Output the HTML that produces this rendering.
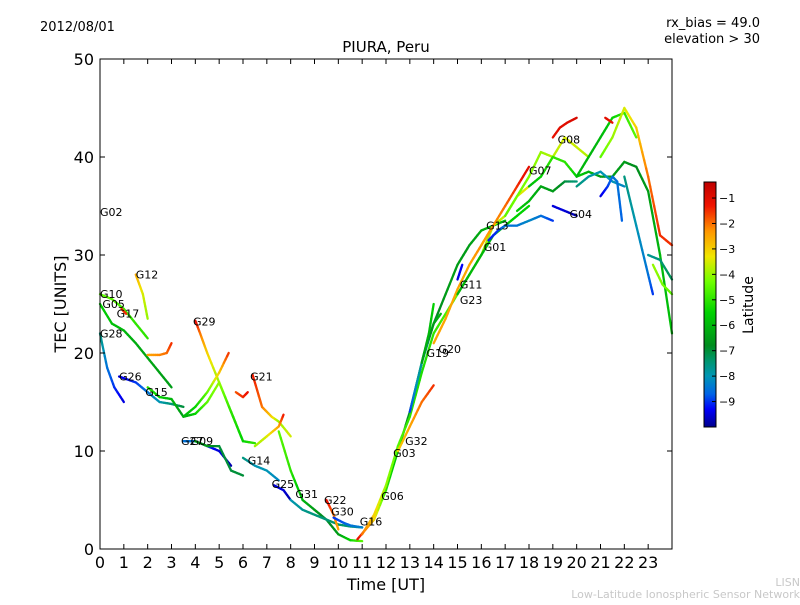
<!DOCTYPE html>
<html><head><meta charset="utf-8"><style>
body{margin:0;background:#fff;}
svg text{font-family:"DejaVu Sans","Liberation Sans",sans-serif;}
</style></head><body>
<svg id="chart" width="800" height="600" xmlns="http://www.w3.org/2000/svg">
<rect x="0" y="0" width="800" height="600" fill="#fff"/>
<text x="40" y="31" font-size="13">2012/08/01</text>
<text x="760" y="27" font-size="13" text-anchor="end">rx_bias = 49.0</text>
<text x="760" y="43" font-size="13" text-anchor="end">elevation &gt; 30</text>
<text x="386" y="52" font-size="15" text-anchor="middle">PIURA, Peru</text>
<g id="plot"></g>
<rect x="100" y="59" width="572" height="490" fill="none" stroke="#000" stroke-width="1"/>
<g id="axes"></g>
<text x="386" y="590" font-size="16" text-anchor="middle">Time [UT]</text>
<text transform="translate(66,304) rotate(-90)" font-size="16" text-anchor="middle">TEC [UNITS]</text>
<g id="cbar"></g>
<text transform="translate(753,305) rotate(-90)" font-size="14" text-anchor="middle">Latitude</text>
<text x="800" y="586" font-size="11" fill="#c8c8c8" text-anchor="end">LISN</text>
<text x="800" y="598" font-size="11" fill="#c8c8c8" text-anchor="end">Low-Latitude Ionospheric Sensor Network</text>
</svg>
<script>
const xTicks=[0,1,2,3,4,5,6,7,8,9,10,11,12,13,14,15,16,17,18,19,20,21,22,23];
const yTicks=[0,10,20,30,40,50];
const cbTicks=[-1,-2,-3,-4,-5,-6,-7,-8,-9];
const trackT=[
[0,0.3,0.6,1],
[0,0.5,1,1.5,2,2.5,3],
[0,0.5,1,1.5,2],
[0.9,1.1],
[1.5,1.8,2],
[2,2.5,2.8,3],
[0.8,1.5,2,2.5,3,3.5],
[2,2.5,3,3.5,4,4.5,5,5.5,6],
[4,4.2,4.5,5,5.5,6,6.5],
[3.5,4,4.5,5,5.4],
[3.5,4,4.5,5,5.5],
[4,4.5,5,5.5,6],
[5.7,6,6.2],
[6.4,6.8,7.2,7.5,8],
[6,6.5,7,7.5],
[6.5,7,7.5,7.7],
[7.5,8,8.5,9,9.5,10,10.5,11],
[7.3,7.7,8],
[8,8.5,9,9.5,10,10.5,11],
[9.5,9.8,10],
[9.8,10.2,10.5,11],
[10.8,11.5,12,12.5,13,13.5,14,14.5,15,15.5,16,16.5,17],
[11,11.5,12,12.5,13,13.5,14,15,16,16.5,17,17.5,18],
[12.5,13,13.5,14],
[13,13.3,13.6,14,14.3],
[13.5,13.8,14],
[14,14.5,15,15.5,16,16.5],
[15,15.2],
[15,15.5,16,16.5,17,17.5,18],
[16.3,16.7,17,17.5,18,18.5,19],
[16,16.5,17,17.5,18],
[17,17.5,18,18.5,19,19.5,20,20.5],
[19,19.3,19.6,20],
[17.5,18,18.5,19,19.5,20],
[18,18.5,19,19.5,20,20.5,21,21.5,22,22.5,23,23.5,24],
[19,19.5,20],
[20,20.5,21,21.5,22],
[20,20.5,21,21.5,22,22.5],
[21,21.5,22,22.5,23,23.5,24],
[21,21.3,21.5,21.7,21.9],
[22,22.5,23,23.2],
[23,23.5,24],
[23.2,23.6,24],
[21.2,21.5]
];
const trackTEC=[
[22,18.5,16.5,15],
[25,23,22.3,21,19.5,18,16.5],
[26,25.5,24.5,23,21.5],
[24.5,24],
[28,26,23.5],
[19.8,19.8,20,21],
[17.6,17,16,15,14.8,14.5],
[16.5,15.5,15.3,13.5,13.8,15,17,14,11],
[23.3,22,20,17,14,11,10.8],
[13.5,14.5,16,18,20],
[11,11,10.5,10,8.5],
[11,10.5,10.5,8,7.5],
[16,15.5,16],
[17.8,14.5,13.5,13,11.5],
[9.3,8.5,8,7],
[10.5,11.5,12.5,13.7],
[12,8,5,4,3,1.5,0.9,0.8],
[6.5,6,5],
[5,4,3.5,3,2.5,2.3,2.2],
[5,3.5,2],
[3.2,2.7,2.4,2.2],
[1,3,6,10,14,19,23,26,29,31,32.5,33,33.5],
[1.5,3.5,6.5,10.5,13.5,18,22,26,30,33,34,36,37],
[10,12.5,15,16.7],
[14,17,20,23,24],
[19,22,25],
[21,23.5,26.5,29,31,33],
[27.5,29],
[26,28,30,32,33,34,35],
[31.5,32.5,33,33,33.5,34,33.5],
[31,33,35,37,39],
[34,36,38,40.5,40,42,41,40],
[42,43,43.5,44],
[34.5,35.5,37,36.5,37.5,37.5],
[37,38,40,39.5,38,38.5,38,38,39.5,39,36.5,30,22],
[35,34.5,34],
[37,38,38.5,37.5,37],
[38,40,42,44,44.5,42],
[40,42,45,43,38,32,31],
[36,37,38,37.5,33.5],
[38,33,28,26],
[30,29.5,27.5],
[29,27,26],
[44,43.5]
];
const trackLat=[
[-7.5,-8.5,-9,-9.5],
[-5.5,-5.8,-6,-6.2,-6.3,-6.4,-6.5],
[-4.5,-4.5,-4.8,-5,-5],
[-1.5,-1.5],
[-2.5,-3.5,-4],
[-2.5,-2.2,-2,-1.5],
[-9.5,-9,-8.5,-8,-7.5,-7],
[-5,-5.5,-6,-6.5,-5.5,-4.5,-4,-5,-5.5],
[-1,-2,-3,-4,-5,-5.5,-5],
[-6,-5.5,-4.5,-3,-1.5],
[-8.5,-8.5,-9,-9.5,-9.8],
[-6,-6.5,-7,-7,-7],
[-1.8,-1.5,-1.2],
[-1.3,-2,-3,-4,-3.5],
[-7.5,-8,-8,-8.2],
[-4,-3.5,-2.5,-1.3],
[-4.5,-5,-6,-6.5,-7,-6.5,-5.5,-4.5],
[-9.5,-9.5,-9.8],
[-8,-7.7,-7.5,-7.5,-7.3,-7.5,-7.7],
[-1,-2,-2.5],
[-9,-8.8,-8.5,-8.3],
[-1,-3,-5,-6,-7,-7.5,-7,-6.5,-6.5,-6.5,-6.2,-6,-6],
[-2,-3,-4,-4.5,-5,-5.2,-5,-4.5,-4,-3.8,-3.6,-3.5,-3.4],
[-3,-2.5,-2,-1.5],
[-9,-8,-7.5,-6.5,-6],
[-6.5,-6,-5.5],
[-2.5,-2.5,-2.5,-2.5,-2.2,-2],
[-9.5,-9.3],
[-6,-6,-6,-6,-5.5,-5.5,-5.5],
[-9.2,-9,-8.5,-8.5,-8.2,-8.5,-9],
[-2.5,-2.3,-2,-1.5,-1],
[-4.5,-4.3,-4.2,-4,-3.8,-3.5,-3.6,-3.8],
[-1.2,-1,-1,-0.8],
[-5.5,-6,-6.3,-6.5,-7,-7.5],
[-6,-5.5,-5,-5,-5.5,-6,-6.5,-6.5,-6.5,-6.8,-6.5,-6,-5.8],
[-9.5,-9.5,-9.8],
[-7.5,-7.8,-8,-8,-8.2],
[-6,-6,-6,-5.5,-5,-4.5],
[-4.5,-4,-3.5,-3,-2,-1.5,-1.5],
[-9.5,-9,-8.5,-8.5,-8.7],
[-7.5,-8,-8.5,-9],
[-7.8,-7.5,-7.2],
[-4,-4.2,-4.5],
[-1,-1.2]
];
const labelNames=["G02","G12","G10","G05","G17","G28","G26","G15","G29","G21","G27","G09","G14","G25","G31","G22","G30","G16","G06","G03","G32","G19","G20","G11","G23","G01","G13","G07","G08","G04"];
const labelT=[0,1.5,0,0.1,0.7,0,0.8,1.9,3.9,6.3,3.4,3.8,6.2,7.2,8.2,9.4,9.7,10.9,11.8,12.3,12.8,13.7,14.2,15.1,15.1,16.1,16.2,18,19.2,19.7];
const labelV=[34,27.6,25.6,24.6,23.6,21.6,17.2,15.6,22.8,17.2,10.6,10.6,8.6,6.2,5.2,4.6,3.4,2.4,5,9.4,10.6,19.6,20,26.6,25,30.4,32.6,38.2,41.4,33.8];

const NS="http://www.w3.org/2000/svg";
const X0=100,X1=672,Y0=549,Y1=59;
const xs=t=>X0+(t/24)*(X1-X0);
const ys=v=>Y0-(v/50)*(Y0-Y1);
const LMIN=-10,LMAX=-0.37;
const CB_TOP=182,CB_BOT=427;
const cy=l=>CB_BOT-(l-LMIN)/(LMAX-LMIN)*(CB_BOT-CB_TOP);
const cmapStops=[[-10,[0,0,140]],[-9.3,[0,0,250]],[-8.7,[0,100,230]],[-8,[0,150,180]],[-7.4,[0,150,110]],[-6.8,[0,140,30]],[-5.5,[0,210,0]],[-4.3,[110,255,0]],[-3.3,[240,230,0]],[-2.3,[255,150,0]],[-1.3,[240,20,0]],[-0.37,[190,0,0]]];
function col(l){
  if(l<=cmapStops[0][0])return `rgb(${cmapStops[0][1].join(',')})`;
  for(let i=0;i<cmapStops.length-1;i++){
    const a=cmapStops[i],b=cmapStops[i+1];
    if(l<=b[0]){const f=(l-a[0])/(b[0]-a[0]);
      return `rgb(${[0,1,2].map(k=>Math.round(a[1][k]+(b[1][k]-a[1][k])*f)).join(',')})`;}
  }
  return `rgb(${cmapStops[cmapStops.length-1][1].join(',')})`;
}
function mk(tag,attrs,parent){const e=document.createElementNS(NS,tag);for(const k in attrs)e.setAttribute(k,attrs[k]);parent.appendChild(e);return e;}
const plot=document.getElementById('plot');
const axes=document.getElementById('axes');
const cbar=document.getElementById('cbar');
for(let i=0;i<trackT.length;i++){
  const g=mk('g',{},plot);
  
  
  const T=trackT[i],V=trackTEC[i],L=trackLat[i];
  for(let j=0;j<T.length-1;j++){
    const n=6;
    for(let k=0;k<n;k++){
      const a=k/n,b=(k+1)/n;
      const t1=T[j]+(T[j+1]-T[j])*a,t2=T[j]+(T[j+1]-T[j])*b;
      const v1=V[j]+(V[j+1]-V[j])*a,v2=V[j]+(V[j+1]-V[j])*b;
      const lm=L[j]+(L[j+1]-L[j])*(a+b)/2;
      const s=mk('line',{x1:xs(t1),y1:ys(v1),x2:xs(t2),y2:ys(v2),stroke:col(lm),'stroke-width':2.3,'stroke-linecap':'round'},g);
      
      
    }
  }
}
for(let i=0;i<labelNames.length;i++){
  const t=mk('text',{x:xs(labelT[i]),y:ys(labelV[i]),'font-size':11},plot);
  t.textContent=labelNames[i];
  
  
}
for(const v of xTicks){
  const x=xs(v);
  mk('line',{x1:x,y1:Y0,x2:x,y2:Y0-5,stroke:'#000'},axes);
  mk('line',{x1:x,y1:Y1,x2:x,y2:Y1+5,stroke:'#000'},axes);
  const t=mk('text',{x:x,y:568,'font-size':16,'text-anchor':'middle'},axes);
  t.textContent=v;
  
  
}
for(const v of yTicks){
  const y=ys(v);
  mk('line',{x1:X0,y1:y,x2:X0+5,y2:y,stroke:'#000'},axes);
  mk('line',{x1:X1,y1:y,x2:X1-5,y2:y,stroke:'#000'},axes);
  const t=mk('text',{x:94,y:y+6,'font-size':16,'text-anchor':'end'},axes);
  t.textContent=v;
  
  
}
for(let y=CB_TOP;y<CB_BOT;y++){
  const l=LMAX-(y+0.5-CB_TOP)/(CB_BOT-CB_TOP)*(LMAX-LMIN);
  mk('rect',{x:704,y:y,width:12,height:1.2,fill:col(l)},cbar);
}
mk('rect',{x:704,y:CB_TOP,width:12,height:CB_BOT-CB_TOP,fill:'none',stroke:'#000'},cbar);
for(const v of cbTicks){
  const y=cy(v);
  mk('line',{x1:712,y1:y,x2:716,y2:y,stroke:'#000'},cbar);
  const t=mk('text',{x:719,y:y+4,'font-size':11},cbar);
  t.textContent='\u2212'+Math.abs(v);
  
  
}
</script>
</body></html>
